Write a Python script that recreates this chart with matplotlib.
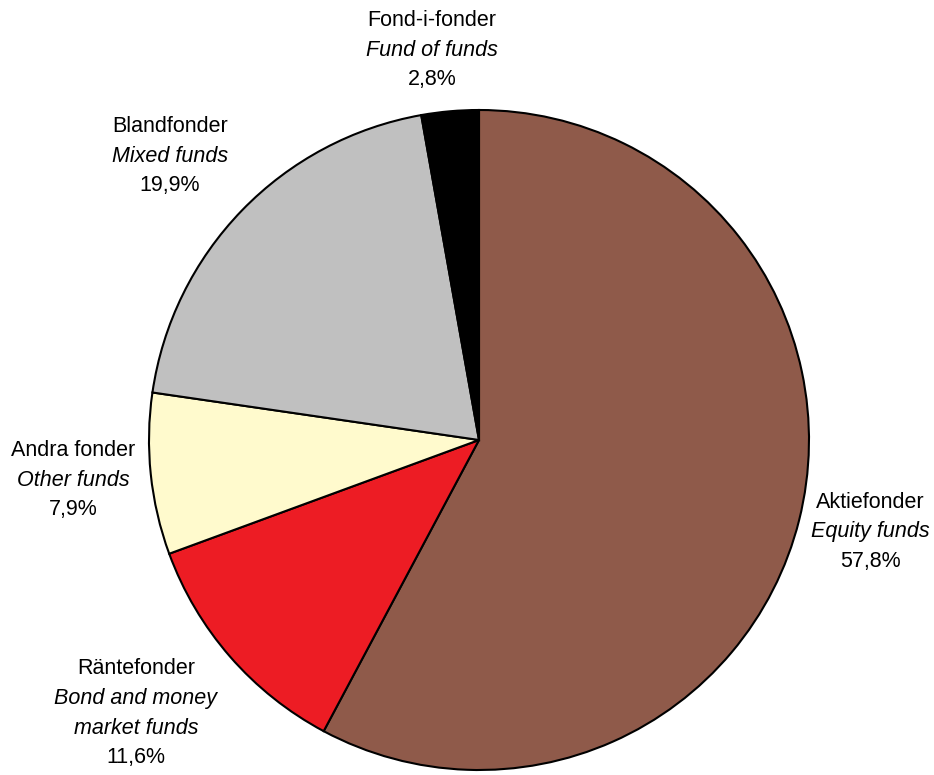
import matplotlib
matplotlib.use("Agg")
from matplotlib import pyplot as plt

plt.rcParams['font.family'] = ['Liberation Sans', 'DejaVu Sans']

# data
namn = ["Aktiefonder", "Räntefonder", "Andra fonder", "Blandfonder", "Fond-i-fonder"]
namn_en = ["Equity funds", "Bond and money\nmarket funds", "Other funds", "Mixed funds", "Fund of funds"]
andel = [57.8, 11.6, 7.9, 19.9, 2.8]
farger = ["#8f5a4a", "#ed1c24", "#fffacd", "#c0c0c0", "#000000"]

# label centre positions (pixels, from top-left)
lbl_pos = [(870, 502), (136, 669), (73, 451), (170, 127), (432, 21)]

W, H = 934, 775
fig = plt.figure(figsize=(W / 100, H / 100), dpi=100)
ax = fig.add_axes([0, 0, 1, 1])

ax.pie(andel, colors=farger, startangle=90, counterclock=False,
       center=(479, H - 440), radius=330, frame=True,
       wedgeprops=dict(edgecolor="black", linewidth=1.5))
ax.set_xlim(0, W)
ax.set_ylim(0, H)
ax.set_aspect("equal")
ax.axis("off")

step = 29.5
fs = 15.5
for i in range(len(namn)):
    x, y = lbl_pos[i]
    ax.text(x, H - y, namn[i], ha="center", va="center", fontsize=fs)
    rader = namn_en[i].split("\n")
    for j, r in enumerate(rader):
        ax.text(x, H - (y + step * (j + 1)), r, ha="center", va="center",
                fontsize=fs, style="italic")
    pct = f"{andel[i]:.1f}%".replace(".", ",")
    ax.text(x, H - (y + step * (len(rader) + 1)), pct, ha="center", va="center", fontsize=fs)

fig.savefig("out.png", dpi=100)
